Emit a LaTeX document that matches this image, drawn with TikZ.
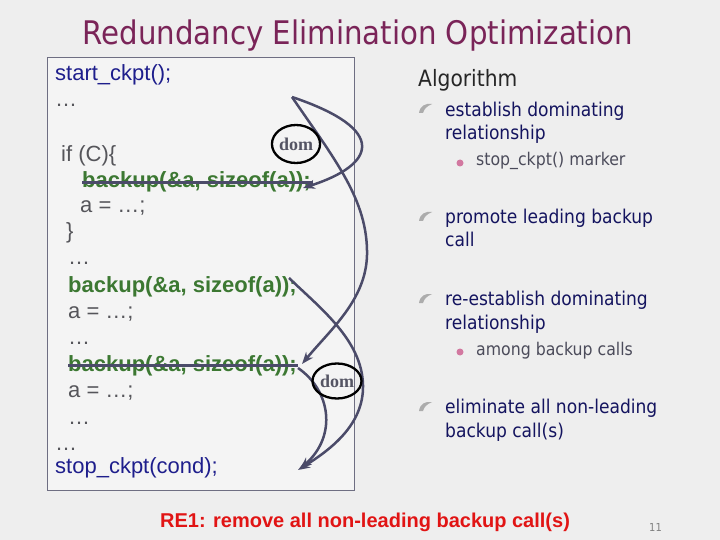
\documentclass[tikz,border=0pt]{standalone}
\usepackage{fontspec}
\setmainfont{Liberation Sans}
\newfontfamily\slidefont{DejaVu Sans Condensed}
\newfontfamily\domfont{Liberation Serif}
\usepackage{tikz}
\usetikzlibrary{arrows.meta, shapes.geometric}
\definecolor{slidebg}{RGB}{238,238,238}
\definecolor{boxbg}{RGB}{244,244,244}
\definecolor{boxline}{RGB}{110,110,130}
\definecolor{titlec}{RGB}{122,36,88}
\definecolor{codeblue}{RGB}{30,30,140}
\definecolor{codegray}{RGB}{85,85,90}
\definecolor{codegreen}{RGB}{60,120,50}
\definecolor{arrowc}{RGB}{75,75,105}
\definecolor{navy}{RGB}{20,20,95}
\definecolor{subgray}{RGB}{75,75,90}
\definecolor{pinkdot}{RGB}{210,120,160}
\definecolor{redtxt}{RGB}{225,20,20}
\definecolor{domgray}{RGB}{85,85,100}

\begin{document}
\begin{tikzpicture}[
  x=1pt, y=-1pt,
  code/.style={anchor=base west, inner sep=0pt, text=codegray,
               font=\fontsize{22}{26}\selectfont},
  ckpt/.style={code, text=codeblue},
  call/.style={code, text=codegreen, font=\fontsize{22}{26}\selectfont\bfseries},
  item/.style={anchor=base west, inner sep=0pt, text=navy,
               font=\slidefont\fontsize{19}{23}\selectfont},
  subitem/.style={anchor=base west, inner sep=0pt, text=subgray,
                  font=\slidefont\fontsize{17.5}{21}\selectfont},
  dom/.style={ellipse, draw=black, line width=2.3pt, inner sep=0pt,
              text=domgray, font=\domfont\bfseries\fontsize{18}{18}\selectfont},
  strike/.style={draw=arrowc, line width=3.5pt},
  arr/.style={draw=arrowc, line width=2.5pt, -{Stealth[length=12pt,width=9pt]}},
  quill/.pic={\fill[gray!65] (-7,5) .. controls (-6,-2) and (-1,-5) .. (6,-4)
                .. controls (1,-2) and (-2,1) .. (-3,5) -- cycle;}
]
% slide background and code box
\fill[slidebg] (0,0) rectangle (720,540);
\useasboundingbox (0,0) rectangle (720,540);
\draw[boxline, fill=boxbg] (47,57) rectangle (354,490);

\node[anchor=base, text=titlec, font=\slidefont\fontsize{32.5}{36}\selectfont]
  (title) at (358,45) {Redundancy Elimination Optimization};

% code lines
\node[ckpt] (start) at (55,81)  {start\_ckpt();};
\node[code] (dots1) at (55,107) {\ldots};
\node[code] (if)    at (61,162) {if (C)\{};
\node[call] (bk1)   at (82,188) {backup(\&a, sizeof(a));};
\node[code] (a1)    at (80,213) {a = \ldots;};
\node[code] (brace) at (66,239) {\}};
\node[code] (dots2) at (68,264) {\ldots};
\node[call] (bk2)   at (68,292) {backup(\&a, sizeof(a));};
\node[code] (a2)    at (68,318) {a = \ldots;};
\node[code] (dots3) at (68,344) {\ldots};
\node[call] (bk3)   at (68,371) {backup(\&a, sizeof(a));};
\node[code] (a3)    at (68,397) {a = \ldots;};
\node[code] (dots4) at (68,424) {\ldots};
\node[code] (dots5) at (55,450) {\ldots};
\node[ckpt] (stop)  at (55,473) {stop\_ckpt(cond);};

% non-leading calls struck out
\draw[strike] (bk1.west) -- ([xshift=2pt]bk1.east);
\draw[strike] (bk3.west) -- ([xshift=1pt]bk3.east);

% dominating arrows
\coordinate (src)  at (292,97);
\coordinate (tipA) at (303,188);
\coordinate (tipB) at (302,364);
\coordinate (srcC) at (289,278);
\coordinate (srcD) at (298,368);
\coordinate (tipC) at (298,470);
\coordinate (tipD) at (300,469);
\draw[arr] (src) .. controls (390,130) and (375,165) .. (tipA);
\draw[arr] (src) .. controls (335,160) and (368,200) .. (367,255)
                 .. controls (366,300) and (330,330) .. (tipB);
\draw[arr] (srcC) .. controls (320,308) and (362,340) .. (363,385)
                  .. controls (364,425) and (330,450) .. (tipC);
\draw[arr] (srcD) .. controls (330,390) and (338,435) .. (tipD);

\node[dom, minimum width=44, minimum height=38] (dom1) at (296,144) {dom};
\node[dom, minimum width=49, minimum height=35] (dom2) at (337,381) {dom};

% algorithm column
\node[anchor=base west, inner sep=0pt, text=black!85,
      font=\slidefont\fontsize{22.5}{26}\selectfont] (algo) at (418,87) {Algorithm};
\foreach \y in {108,216,298,406}
  \pic at (426,\y) {quill};
\foreach \y in {163,352}
  \fill[pinkdot] (460,\y) circle (3.5);
\node[item] (est1)  at (445,117) {establish dominating};
\node[item] (est2)  at (445,140) {relationship};
\node[subitem] (marker) at (476,166) {stop\_ckpt() marker};
\node[item] (prom1) at (445,224) {promote leading backup};
\node[item] (prom2) at (445,247) {call};
\node[item] (rest1) at (445,305) {re-establish dominating};
\node[item] (rest2) at (445,329) {relationship};
\node[subitem] (among) at (476,355) {among backup calls};
\node[item] (elim1) at (445,413) {eliminate all non-leading};
\node[item] (elim2) at (445,437) {backup call(s)};

% footer
\node[anchor=base west, inner sep=0pt, text=redtxt,
      font=\fontsize{20}{23}\selectfont\bfseries] (rule) at (160,527)
  {RE1: remove all non-leading backup call(s)};
\node[anchor=base west, inner sep=0pt, text=gray,
      font=\slidefont\fontsize{11}{13}\selectfont] (page) at (649,531) {11};
\end{tikzpicture}
\end{document}
